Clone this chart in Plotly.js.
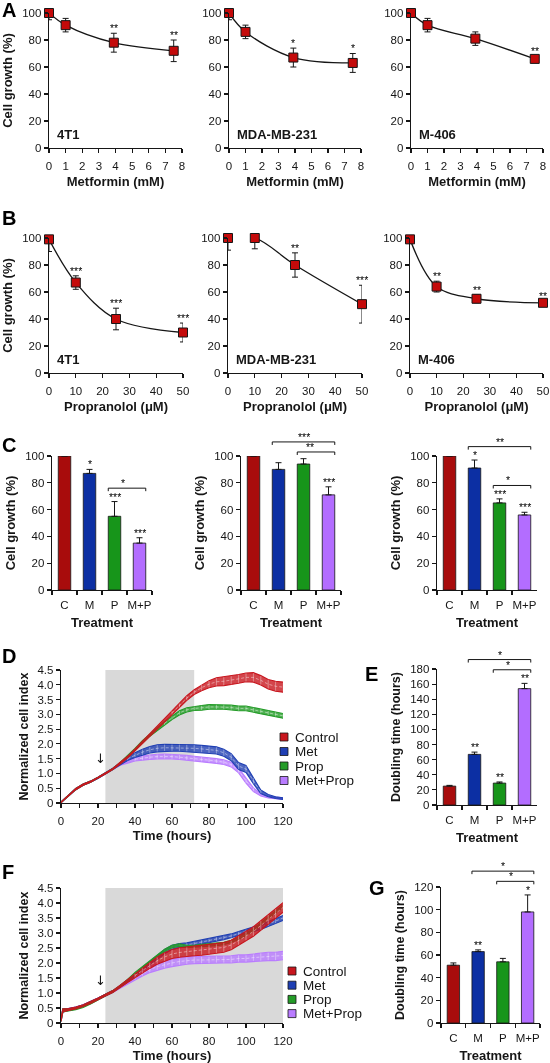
<!DOCTYPE html>
<html><head><meta charset="utf-8">
<script src="https://cdn.plot.ly/plotly-3.0.1.min.js"></script>
<style>html,body{margin:0;padding:0;background:#fff} #chart{will-change:transform;-webkit-font-smoothing:antialiased}</style>
</head><body><div id="chart" style="width:550px;height:1063px"></div>
<script>
// ================= DATA =================
// A: metformin dose-response (cell growth %, mean and SD)
const metDose = [0, 1, 3.9, 7.5];
const metGrowth4T1 = [100, 91, 78, 72];
const metSD4T1 = [5, 5, 7, 8];
const metSig4T1 = ['', '', '**', '**'];
const metGrowthMDA = [100, 86, 67, 63];
const metSDMDA = [5, 5, 7, 7];
const metSigMDA = ['', '', '*', '*'];
const metGrowthM406 = [100, 91, 81, 66];
const metSDM406 = [3, 5, 5, 2];
const metSigM406 = ['', '', '', '**'];
// B: propranolol dose-response
const propDose = [0, 10, 25, 50];
const propGrowth4T1 = [99, 67, 40, 30];
const propSD4T1 = [9, 5, 8, 7];
const propSig4T1 = ['', '***', '***', '***'];
const propGrowthMDA = [100, 100, 80, 51];
const propSDMDA = [9, 8, 9, 14];
const propSigMDA = ['', '', '**', '***'];
const propGrowthM406 = [99, 64, 55, 52];
const propSDM406 = [3, 4, 3, 1.5];
const propSigM406 = ['', '**', '**', '**'];
const cellLines = ['4T1', 'MDA-MB-231', 'M-406'];
// C: combination treatment
const treatments = ['C', 'M', 'P', 'M+P'];
const combo4T1 = [100, 87, 55, 35];
const comboSD4T1 = [0, 3, 11, 4];
const comboSig4T1 = ['', '*', '***', '***'];
const comboBr4T1 = [['P', 'M+P', '*']];
const comboMDA = [100, 90, 94, 71];
const comboSDMDA = [0, 5, 4, 6];
const comboSigMDA = ['', '', '', '***'];
const comboBrMDA = [['M', 'M+P', '***'], ['P', 'M+P', '**']];
const comboM406 = [100, 91, 65, 56];
const comboSDM406 = [0, 6, 3, 2];
const comboSigM406 = ['', '*', '***', '***'];
const comboBrM406 = [['M', 'M+P', '**'], ['P', 'M+P', '*']];
// E: doubling time (hours)
const dblTimeE = [25, 67, 29, 154];
const dblSDE = [1, 3, 1.5, 7];
const dblSigE = ['', '**', '**', '**'];
const dblBrE = [['M', 'M+P', '*'], ['P', 'M+P', '*']];
// G: doubling time (hours)
const dblTimeG = [51, 63, 54, 98];
const dblSDG = [2, 1.5, 3, 15];
const dblSigG = ['', '**', '', '*'];
const dblBrG = [['M', 'M+P', '*'], ['P', 'M+P', '*']];
// D / F: real-time normalized cell index
const seriesNames = ['Control', 'Met', 'Prop', 'Met+Prop'];
const ciTickLabels = ['0', '0.5', '1.0', '1.5', '2.0', '2.5', '3.0', '3.5', '4.0', '4.5'];
const shadeD = [24, 72];
const shadeF = [24, 120];
const treatmentStart = 24;
const tD = [0,4,8,12,16,20,24,28,32,36,40,44,48,52,56,60,64,68,72,76,80,84,88,92,96,100,104,108,112,116,120];
const dControl = [0.02,0.25,0.47,0.62,0.72,0.85,1.0,1.15,1.35,1.55,1.8,2.05,2.3,2.55,2.8,3.05,3.3,3.55,3.75,3.9,4.02,4.1,4.12,4.15,4.2,4.25,4.25,4.15,4.02,3.95,3.92];
const dControlSD = [0.01,0.02,0.02,0.02,0.02,0.02,0.02,0.02,0.03,0.03,0.03,0.04,0.04,0.05,0.05,0.06,0.07,0.08,0.08,0.1,0.12,0.14,0.15,0.15,0.15,0.15,0.16,0.16,0.16,0.17,0.17];
const dMet = [0.02,0.25,0.47,0.62,0.72,0.85,1.0,1.15,1.32,1.5,1.62,1.72,1.8,1.85,1.87,1.87,1.87,1.86,1.85,1.83,1.8,1.78,1.7,1.55,1.25,1.15,0.75,0.38,0.25,0.18,0.15];
const dMetSD = [0.01,0.02,0.02,0.02,0.02,0.02,0.02,0.03,0.04,0.06,0.08,0.1,0.11,0.12,0.12,0.12,0.12,0.12,0.12,0.12,0.12,0.12,0.12,0.12,0.12,0.12,0.1,0.06,0.04,0.03,0.03];
const dProp = [0.02,0.25,0.47,0.62,0.72,0.85,1.0,1.15,1.35,1.57,1.82,2.07,2.3,2.5,2.7,2.88,3.05,3.15,3.2,3.22,3.25,3.25,3.25,3.23,3.2,3.2,3.15,3.1,3.05,3.0,2.95];
const dPropSD = [0.01,0.02,0.02,0.02,0.02,0.02,0.02,0.02,0.02,0.03,0.03,0.04,0.04,0.05,0.06,0.06,0.07,0.07,0.07,0.08,0.08,0.08,0.08,0.08,0.08,0.08,0.08,0.08,0.08,0.08,0.08];
const dCombo = [0.02,0.25,0.47,0.62,0.72,0.85,1.0,1.15,1.32,1.4,1.48,1.52,1.55,1.57,1.58,1.57,1.55,1.53,1.5,1.48,1.45,1.42,1.38,1.3,1.1,0.75,0.45,0.28,0.2,0.17,0.15];
const dComboSD = [0.01,0.02,0.02,0.02,0.02,0.02,0.02,0.03,0.04,0.05,0.06,0.08,0.08,0.08,0.08,0.08,0.08,0.08,0.08,0.08,0.08,0.08,0.08,0.08,0.08,0.08,0.06,0.04,0.03,0.03,0.03];
const tF = [0,1,4,8,12,16,20,24,28,32,36,40,44,48,52,56,60,64,68,72,76,80,84,88,92,96,100,104,108,112,116,120];
const fControl = [0.1,0.42,0.45,0.5,0.58,0.68,0.8,0.93,1.05,1.22,1.4,1.58,1.75,1.92,2.08,2.2,2.3,2.35,2.38,2.4,2.42,2.45,2.48,2.52,2.6,2.75,2.9,3.05,3.25,3.45,3.65,3.85];
const fControlSD = [0.05,0.05,0.03,0.03,0.03,0.03,0.03,0.03,0.03,0.04,0.05,0.06,0.08,0.1,0.12,0.14,0.15,0.16,0.16,0.16,0.16,0.16,0.16,0.16,0.16,0.16,0.16,0.16,0.16,0.16,0.16,0.16];
const fMet = [0.1,0.42,0.45,0.5,0.58,0.68,0.8,0.93,1.05,1.22,1.4,1.6,1.8,2.0,2.2,2.38,2.52,2.58,2.6,2.65,2.7,2.75,2.8,2.85,2.9,2.98,3.05,3.12,3.2,3.3,3.4,3.5];
const fMetSD = [0.05,0.05,0.03,0.03,0.03,0.03,0.03,0.03,0.03,0.03,0.03,0.04,0.05,0.06,0.07,0.07,0.07,0.07,0.07,0.07,0.07,0.07,0.07,0.07,0.07,0.07,0.07,0.07,0.08,0.08,0.08,0.08];
const fProp = [0.1,0.42,0.43,0.47,0.55,0.66,0.79,0.93,1.05,1.22,1.42,1.65,1.85,2.05,2.25,2.42,2.55,2.6,2.55,2.55,2.58,2.6,2.62,2.65,2.72,2.82,2.95,3.1,3.3,3.5,3.7,3.9];
const fPropSD = [0.05,0.05,0.03,0.03,0.03,0.03,0.03,0.03,0.03,0.03,0.03,0.04,0.04,0.04,0.04,0.04,0.04,0.04,0.04,0.04,0.04,0.04,0.04,0.04,0.04,0.04,0.04,0.04,0.04,0.04,0.04,0.04];
const fCombo = [0.1,0.42,0.45,0.5,0.58,0.68,0.8,0.93,1.05,1.2,1.35,1.5,1.65,1.78,1.88,1.95,2.0,2.05,2.08,2.1,2.1,2.1,2.12,2.12,2.12,2.15,2.15,2.18,2.2,2.22,2.22,2.25];
const fComboSD = [0.05,0.05,0.03,0.03,0.03,0.03,0.03,0.03,0.03,0.04,0.05,0.06,0.08,0.1,0.12,0.12,0.12,0.12,0.12,0.12,0.12,0.12,0.12,0.12,0.12,0.12,0.12,0.12,0.14,0.14,0.14,0.14];

// ================= STYLE / LAYOUT =================
const W = 550, H = 1063;
const FONT = '"Liberation Sans", Arial, Helvetica, sans-serif';
const INK = '#161616';
const barColors = ['#a80c0c', '#0c2fa3', '#17951a', '#b36dff'];
const seriesColors = ['#c8161e', '#1f3fb3', '#249c28', '#b97cff'];
const markerRed = '#c40a0a';

const layout = {
  width: W, height: H, margin: {l: 0, r: 0, t: 0, b: 0, pad: 0},
  showlegend: false, paper_bgcolor: '#ffffff', plot_bgcolor: 'rgba(0,0,0,0)',
  font: {family: FONT, size: 11.5, color: INK},
  annotations: [], shapes: []
};
const data = [];
let axCount = 0;

function baseAxis() {
  return {showline: true, linecolor: INK, linewidth: 1.3, ticks: 'outside', ticklen: 4, tickwidth: 1.2,
    tickcolor: INK, showgrid: false, zeroline: false, fixedrange: true, automargin: false, tickangle: 0,
    tickfont: {family: FONT, size: 11.5, color: INK}};
}
function ttl(text, size, standoff) {
  return {text: '<b>' + text + '</b>', font: {family: FONT, size: size, color: INK}, standoff: standoff};
}
function newAxes(px, xopt, yopt) {
  axCount++;
  const s = axCount === 1 ? '' : String(axCount);
  const xa = 'x' + s, ya = 'y' + s;
  layout['xaxis' + s] = Object.assign(baseAxis(), {domain: [px.l / W, px.r / W], anchor: ya}, xopt);
  layout['yaxis' + s] = Object.assign(baseAxis(), {domain: [1 - px.b / H, 1 - px.t / H], anchor: xa}, yopt);
  return {xa, ya};
}

function starNote(xref, yref, x, y, text) {
  return {xref: xref, yref: yref, x: x, y: y, text: text, showarrow: false, yanchor: 'bottom', yshift: -3,
    font: {size: 10.5, color: '#000'}};
}

function dosePanel(px, dose, vals, sd, sig, cell, xmax, xdtick, xtitle, showY) {
  const {xa, ya} = newAxes(px,
    {range: [0, xmax], tick0: 0, dtick: xdtick, ticklabelstandoff: 3, title: ttl(xtitle, 13, 5)},
    {range: [0, 100], tick0: 0, dtick: 20, title: showY ? ttl('Cell growth (%)', 13, 6) : {text: ''}});
  data.push({type: 'scatter', mode: 'lines+markers', x: dose, y: vals, xaxis: xa, yaxis: ya, cliponaxis: false,
    line: {shape: 'spline', smoothing: 1, color: INK, width: 1.3},
    marker: {symbol: 'square', size: 9, color: markerRed, line: {color: INK, width: 1}},
    error_y: {type: 'data', array: sd, visible: true, color: INK, thickness: 1, width: 3}});
  sig.forEach((s, i) => {
    if (s) layout.annotations.push(starNote(xa, ya, dose[i], vals[i] + sd[i], s));
  });
  layout.annotations.push({xref: xa + ' domain', yref: ya + ' domain', x: 0.045, y: 0.03, text: '<b>' + cell + '</b>',
    showarrow: false, xanchor: 'left', yanchor: 'bottom', font: {size: 13, color: INK}});
}

function barPanel(px, vals, sd, sig, brackets, ymax, ytitle, ytSize) {
  const {xa, ya} = newAxes(px,
    {type: 'category', range: [-0.5, 3.5], tickson: 'boundaries', ticklabelstandoff: 4, title: ttl('Treatment', 13, 7)},
    {range: [0, ymax], tick0: 0, dtick: 20, title: ttl(ytitle, ytSize, 6)});
  data.push({type: 'bar', x: treatments, y: vals, xaxis: xa, yaxis: ya, width: 0.5,
    marker: {color: barColors, line: {color: INK, width: 0.8}},
    error_y: {type: 'data', symmetric: false, array: sd, arrayminus: sd.map(() => 0), visible: true,
      color: INK, thickness: 1, width: 3}});
  const tops = vals.map((v, i) => v + sd[i]);
  sig.forEach((s, i) => {
    if (s) layout.annotations.push(starNote(xa, ya, treatments[i], tops[i], s));
  });
  // clearance above each bar: more room when the bar carries its own star label
  const clear = tops.map((v, i) => v + (sig[i] ? 0.1 : 0.05) * ymax);
  const hPx = px.b - px.t;
  const list = brackets.map(b => ({i: treatments.indexOf(b[0]), j: treatments.indexOf(b[1]), label: b[2]}))
    .sort((a, b) => (a.j - a.i) - (b.j - b.i));
  let prev = -Infinity;
  list.forEach(b => {
    const m = Math.max(...clear.slice(b.i, b.j + 1));
    const level = Math.max(m, prev + 0.075 * ymax);
    prev = level;
    const x0 = (b.i + 0.25) / 4, x1 = (b.j + 0.75) / 4;
    const y = level / ymax, yt = y - 3 / hPx;
    layout.shapes.push({type: 'path', xref: xa + ' domain', yref: ya + ' domain',
      path: `M${x0},${yt} L${x0},${y} L${x1},${y} L${x1},${yt}`, line: {color: INK, width: 1}});
    layout.annotations.push(starNote(xa + ' domain', ya + ' domain', (x0 + x1) / 2, y, b.label));
  });
}

function rgba(hex, a) {
  const n = parseInt(hex.slice(1), 16);
  return `rgba(${(n >> 16) & 255},${(n >> 8) & 255},${n & 255},${a})`;
}

function timePanel(px, t, means, sds, shade, legendPos) {
  const {xa, ya} = newAxes(px,
    {range: [0, 120], tick0: 0, dtick: 20, ticklabelstandoff: 3,
     minor: {dtick: 10, ticks: 'outside', ticklen: 4, tickwidth: 1.2, tickcolor: INK, showgrid: false},
     title: ttl('Time (hours)', 13, 4)},
    {range: [0, 4.5], tickvals: ciTickLabels.map(Number), ticktext: ciTickLabels, title: ttl('Normalized cell index', 12.5, 6)});
  layout.shapes.push({type: 'rect', xref: xa, yref: ya + ' domain', x0: shade[0], x1: shade[1], y0: 0, y1: 1,
    fillcolor: '#d9d9d9', line: {width: 0}, layer: 'below'});
  // draw order: Met+Prop, Met, Prop, Control (control on top)
  [3, 1, 2, 0].forEach(k => {
    const m = means[k], s = sds[k], c = seriesColors[k];
    const up = m.map((v, i) => v + s[i]), lo = m.map((v, i) => v - s[i]);
    data.push({type: 'scatter', mode: 'lines', xaxis: xa, yaxis: ya, x: t.concat(t.slice().reverse()),
      y: up.concat(lo.slice().reverse()), fill: 'toself', fillcolor: rgba(c, 0.8),
      line: {color: c, width: 1.1}, hoverinfo: 'skip'});
    data.push({type: 'scatter', mode: 'lines', xaxis: xa, yaxis: ya, x: t,
      y: m.map((v, i) => s[i] >= 0.06 ? v : null), connectgaps: false,
      line: {color: 'rgba(255,255,255,0.55)', width: 0.8, dash: '3px,2px'},
      error_y: {type: 'data', array: s.map(v => v >= 0.06 ? v * 0.9 : 0), visible: true,
        color: 'rgba(255,255,255,0.45)', thickness: 0.8, width: 0}});
  });
  const ctl = means[0][t.indexOf(treatmentStart)];
  layout.annotations.push({xref: xa, yref: ya, x: treatmentStart, y: ctl + 0.5, xshift: -5, text: '↓', showarrow: false,
    font: {size: 13, color: INK, family: '"DejaVu Sans", sans-serif'}});
  // legend
  seriesNames.forEach((name, i) => {
    const yc = legendPos.y + i * legendPos.dy;
    layout.shapes.push({type: 'rect', xref: 'paper', yref: 'paper', x0: (legendPos.x - 4) / W, x1: (legendPos.x + 4) / W,
      y0: 1 - (yc + 4) / H, y1: 1 - (yc - 4) / H, fillcolor: seriesColors[i], line: {color: INK, width: 0.8}});
    layout.annotations.push({xref: 'paper', yref: 'paper', x: (legendPos.x + 9) / W, y: 1 - yc / H, xanchor: 'left',
      yanchor: 'middle', text: name, showarrow: false, font: {size: 13.5, color: INK}});
  });
}

// ---- Row A ----
const colA = [{l: 49, r: 182}, {l: 229, r: 361}, {l: 411, r: 543}];
dosePanel(Object.assign({t: 13, b: 148}, colA[0]), metDose, metGrowth4T1, metSD4T1, metSig4T1, cellLines[0], 8, 1, 'Metformin (mM)', true);
dosePanel(Object.assign({t: 13, b: 148}, colA[1]), metDose, metGrowthMDA, metSDMDA, metSigMDA, cellLines[1], 8, 1, 'Metformin (mM)', false);
dosePanel(Object.assign({t: 13, b: 148}, colA[2]), metDose, metGrowthM406, metSDM406, metSigM406, cellLines[2], 8, 1, 'Metformin (mM)', false);
// ---- Row B ----
const colB = [{l: 49, r: 183}, {l: 228, r: 362}, {l: 410, r: 543}];
dosePanel(Object.assign({t: 238, b: 373}, colB[0]), propDose, propGrowth4T1, propSD4T1, propSig4T1, cellLines[0], 50, 10, 'Propranolol (μM)', true);
dosePanel(Object.assign({t: 238, b: 373}, colB[1]), propDose, propGrowthMDA, propSDMDA, propSigMDA, cellLines[1], 50, 10, 'Propranolol (μM)', false);
dosePanel(Object.assign({t: 238, b: 373}, colB[2]), propDose, propGrowthM406, propSDM406, propSigM406, cellLines[2], 50, 10, 'Propranolol (μM)', false);
// ---- Row C ----
barPanel({l: 52, r: 152, t: 456, b: 590}, combo4T1, comboSD4T1, comboSig4T1, comboBr4T1, 100, 'Cell growth (%)', 13);
barPanel({l: 241, r: 341, t: 456, b: 590}, comboMDA, comboSDMDA, comboSigMDA, comboBrMDA, 100, 'Cell growth (%)', 13);
barPanel({l: 437, r: 537, t: 456, b: 590}, comboM406, comboSDM406, comboSigM406, comboBrM406, 100, 'Cell growth (%)', 13);
// ---- D / E ----
timePanel({l: 61, r: 283, t: 670, b: 803}, tD, [dControl, dMet, dProp, dCombo], [dControlSD, dMetSD, dPropSD, dComboSD], shadeD, {x: 284, y: 737, dy: 14.5});
barPanel({l: 437, r: 537, t: 669, b: 805}, dblTimeE, dblSDE, dblSigE, dblBrE, 180, 'Doubling time (hours)', 12.5);
// ---- F / G ----
timePanel({l: 61, r: 283, t: 888, b: 1023}, tF, [fControl, fMet, fProp, fCombo], [fControlSD, fMetSD, fPropSD, fComboSD], shadeF, {x: 292, y: 971, dy: 14.2});
barPanel({l: 441, r: 540, t: 887, b: 1023}, dblTimeG, dblSDG, dblSigG, dblBrG, 120, 'Doubling time (hours)', 12.5);

// panel letters
[['A', 0, 10], ['B', 0, 218], ['C', 0, 445], ['D', 0, 656], ['E', 363, 674], ['F', 0, 872], ['G', 367, 888]].forEach(p => {
  layout.annotations.push({xref: 'paper', yref: 'paper', x: p[1] / W, y: 1 - p[2] / H, xanchor: 'left', yanchor: 'middle',
    text: '<b>' + p[0] + '</b>', showarrow: false, font: {size: 20, color: '#000'}});
});

Plotly.newPlot('chart', data, layout, {displayModeBar: false, staticPlot: true});
</script>
</body></html>
